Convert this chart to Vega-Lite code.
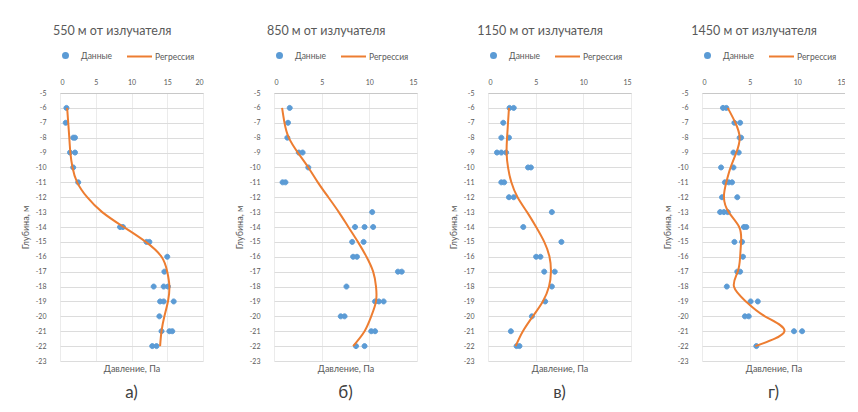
{
  "$schema": "https://vega.github.io/schema/vega-lite/v6.json",
  "padding": {"left": 21, "top": 24, "right": 0, "bottom": 0},
  "background": "white",
  "datasets": {
    "a": [
      {"s": "Данные", "p": 0.9, "d": -6}, {"s": "Данные", "p": 0.8, "d": -7},
      {"s": "Данные", "p": 1.85, "d": -8}, {"s": "Данные", "p": 2.1, "d": -8},
      {"s": "Данные", "p": 1.4, "d": -9}, {"s": "Данные", "p": 2.1, "d": -9},
      {"s": "Данные", "p": 1.85, "d": -10}, {"s": "Данные", "p": 2.55, "d": -11},
      {"s": "Данные", "p": 8.4, "d": -14}, {"s": "Данные", "p": 8.8, "d": -14},
      {"s": "Данные", "p": 12.1, "d": -15}, {"s": "Данные", "p": 12.5, "d": -15},
      {"s": "Данные", "p": 15.0, "d": -16}, {"s": "Данные", "p": 14.6, "d": -17},
      {"s": "Данные", "p": 13.1, "d": -18}, {"s": "Данные", "p": 14.5, "d": -18}, {"s": "Данные", "p": 15.1, "d": -18},
      {"s": "Данные", "p": 14.0, "d": -19}, {"s": "Данные", "p": 14.5, "d": -19}, {"s": "Данные", "p": 15.9, "d": -19},
      {"s": "Данные", "p": 13.9, "d": -20},
      {"s": "Данные", "p": 14.2, "d": -21}, {"s": "Данные", "p": 15.3, "d": -21}, {"s": "Данные", "p": 15.7, "d": -21},
      {"s": "Данные", "p": 12.9, "d": -22}, {"s": "Данные", "p": 13.5, "d": -22},
      {"s": "Регрессия", "p": 1.0, "d": -6}, {"s": "Регрессия", "p": 1.15, "d": -7},
      {"s": "Регрессия", "p": 1.3, "d": -8}, {"s": "Регрессия", "p": 1.45, "d": -9},
      {"s": "Регрессия", "p": 1.75, "d": -10}, {"s": "Регрессия", "p": 2.4, "d": -11},
      {"s": "Регрессия", "p": 3.8, "d": -12}, {"s": "Регрессия", "p": 5.9, "d": -13},
      {"s": "Регрессия", "p": 8.9, "d": -14}, {"s": "Регрессия", "p": 12.0, "d": -15},
      {"s": "Регрессия", "p": 14.2, "d": -16}, {"s": "Регрессия", "p": 15.0, "d": -17},
      {"s": "Регрессия", "p": 15.3, "d": -18}, {"s": "Регрессия", "p": 15.1, "d": -19},
      {"s": "Регрессия", "p": 14.6, "d": -20}, {"s": "Регрессия", "p": 14.2, "d": -21},
      {"s": "Регрессия", "p": 14.0, "d": -22}
    ],
    "b": [
      {"s": "Данные", "p": 1.65, "d": -6}, {"s": "Данные", "p": 1.47, "d": -7},
      {"s": "Данные", "p": 1.4, "d": -8}, {"s": "Данные", "p": 2.6, "d": -9}, {"s": "Данные", "p": 3.0, "d": -9},
      {"s": "Данные", "p": 3.6, "d": -10}, {"s": "Данные", "p": 0.9, "d": -11}, {"s": "Данные", "p": 1.2, "d": -11},
      {"s": "Данные", "p": 10.3, "d": -13},
      {"s": "Данные", "p": 8.5, "d": -14}, {"s": "Данные", "p": 9.5, "d": -14}, {"s": "Данные", "p": 10.4, "d": -14},
      {"s": "Данные", "p": 8.2, "d": -15}, {"s": "Данные", "p": 9.4, "d": -15},
      {"s": "Данные", "p": 8.3, "d": -16}, {"s": "Данные", "p": 8.7, "d": -16},
      {"s": "Данные", "p": 13.0, "d": -17}, {"s": "Данные", "p": 13.4, "d": -17},
      {"s": "Данные", "p": 7.6, "d": -18},
      {"s": "Данные", "p": 10.6, "d": -19}, {"s": "Данные", "p": 11.0, "d": -19}, {"s": "Данные", "p": 11.5, "d": -19},
      {"s": "Данные", "p": 7.0, "d": -20}, {"s": "Данные", "p": 7.4, "d": -20},
      {"s": "Данные", "p": 10.2, "d": -21}, {"s": "Данные", "p": 10.6, "d": -21},
      {"s": "Данные", "p": 8.6, "d": -22}, {"s": "Данные", "p": 9.5, "d": -22},
      {"s": "Регрессия", "p": 0.85, "d": -6}, {"s": "Регрессия", "p": 1.1, "d": -7},
      {"s": "Регрессия", "p": 1.55, "d": -8}, {"s": "Регрессия", "p": 2.5, "d": -9},
      {"s": "Регрессия", "p": 3.6, "d": -10}, {"s": "Регрессия", "p": 4.6, "d": -11},
      {"s": "Регрессия", "p": 5.7, "d": -12}, {"s": "Регрессия", "p": 6.8, "d": -13},
      {"s": "Регрессия", "p": 7.8, "d": -14}, {"s": "Регрессия", "p": 8.8, "d": -15},
      {"s": "Регрессия", "p": 9.7, "d": -16}, {"s": "Регрессия", "p": 10.4, "d": -17},
      {"s": "Регрессия", "p": 10.7, "d": -18}, {"s": "Регрессия", "p": 10.7, "d": -19},
      {"s": "Регрессия", "p": 10.2, "d": -20}, {"s": "Регрессия", "p": 9.5, "d": -21},
      {"s": "Регрессия", "p": 8.3, "d": -22}
    ],
    "c": [
      {"s": "Данные", "p": 2.26, "d": -6}, {"s": "Данные", "p": 2.7, "d": -6},
      {"s": "Данные", "p": 1.6, "d": -7},
      {"s": "Данные", "p": 1.4, "d": -8}, {"s": "Данные", "p": 2.2, "d": -8},
      {"s": "Данные", "p": 0.94, "d": -9}, {"s": "Данные", "p": 1.4, "d": -9}, {"s": "Данные", "p": 1.9, "d": -9},
      {"s": "Данные", "p": 4.2, "d": -10}, {"s": "Данные", "p": 4.5, "d": -10},
      {"s": "Данные", "p": 1.4, "d": -11}, {"s": "Данные", "p": 1.7, "d": -11},
      {"s": "Данные", "p": 2.2, "d": -12}, {"s": "Данные", "p": 2.7, "d": -12},
      {"s": "Данные", "p": 6.7, "d": -13}, {"s": "Данные", "p": 3.7, "d": -14},
      {"s": "Данные", "p": 7.7, "d": -15},
      {"s": "Данные", "p": 5.05, "d": -16}, {"s": "Данные", "p": 5.5, "d": -16},
      {"s": "Данные", "p": 5.9, "d": -17}, {"s": "Данные", "p": 7.0, "d": -17},
      {"s": "Данные", "p": 6.7, "d": -18}, {"s": "Данные", "p": 6.0, "d": -19},
      {"s": "Данные", "p": 4.6, "d": -20}, {"s": "Данные", "p": 2.4, "d": -21},
      {"s": "Данные", "p": 3.0, "d": -22}, {"s": "Данные", "p": 3.3, "d": -22},
      {"s": "Регрессия", "p": 2.2, "d": -6}, {"s": "Регрессия", "p": 2.1, "d": -7},
      {"s": "Регрессия", "p": 2.0, "d": -8}, {"s": "Регрессия", "p": 1.95, "d": -9},
      {"s": "Регрессия", "p": 2.1, "d": -10}, {"s": "Регрессия", "p": 2.45, "d": -11},
      {"s": "Регрессия", "p": 3.1, "d": -12}, {"s": "Регрессия", "p": 4.1, "d": -13},
      {"s": "Регрессия", "p": 5.05, "d": -14}, {"s": "Регрессия", "p": 5.9, "d": -15},
      {"s": "Регрессия", "p": 6.45, "d": -16}, {"s": "Регрессия", "p": 6.6, "d": -17},
      {"s": "Регрессия", "p": 6.4, "d": -18}, {"s": "Регрессия", "p": 5.75, "d": -19},
      {"s": "Регрессия", "p": 4.7, "d": -20}, {"s": "Регрессия", "p": 3.66, "d": -21},
      {"s": "Регрессия", "p": 2.9, "d": -22}
    ],
    "d": [
      {"s": "Данные", "p": 2.2, "d": -6}, {"s": "Данные", "p": 2.55, "d": -6},
      {"s": "Данные", "p": 3.4, "d": -7}, {"s": "Данные", "p": 4.0, "d": -7},
      {"s": "Данные", "p": 3.95, "d": -8}, {"s": "Данные", "p": 4.1, "d": -8},
      {"s": "Данные", "p": 3.3, "d": -9}, {"s": "Данные", "p": 3.85, "d": -9},
      {"s": "Данные", "p": 2.0, "d": -10}, {"s": "Данные", "p": 3.3, "d": -10},
      {"s": "Данные", "p": 2.4, "d": -11}, {"s": "Данные", "p": 2.8, "d": -11}, {"s": "Данные", "p": 3.15, "d": -11},
      {"s": "Данные", "p": 2.1, "d": -12}, {"s": "Данные", "p": 3.7, "d": -12},
      {"s": "Данные", "p": 1.9, "d": -13}, {"s": "Данные", "p": 2.3, "d": -13}, {"s": "Данные", "p": 2.7, "d": -13},
      {"s": "Данные", "p": 4.4, "d": -14}, {"s": "Данные", "p": 4.65, "d": -14},
      {"s": "Данные", "p": 3.4, "d": -15}, {"s": "Данные", "p": 4.2, "d": -15},
      {"s": "Данные", "p": 4.3, "d": -16},
      {"s": "Данные", "p": 3.7, "d": -17}, {"s": "Данные", "p": 4.0, "d": -17},
      {"s": "Данные", "p": 2.6, "d": -18},
      {"s": "Данные", "p": 5.1, "d": -19}, {"s": "Данные", "p": 5.85, "d": -19},
      {"s": "Данные", "p": 4.5, "d": -20}, {"s": "Данные", "p": 4.9, "d": -20},
      {"s": "Данные", "p": 9.65, "d": -21}, {"s": "Данные", "p": 10.5, "d": -21},
      {"s": "Данные", "p": 5.7, "d": -22},
      {"s": "Регрессия", "p": 2.7, "d": -6}, {"s": "Регрессия", "p": 3.5, "d": -7},
      {"s": "Регрессия", "p": 3.95, "d": -8}, {"s": "Регрессия", "p": 3.6, "d": -9},
      {"s": "Регрессия", "p": 3.0, "d": -10}, {"s": "Регрессия", "p": 2.55, "d": -11},
      {"s": "Регрессия", "p": 2.3, "d": -12}, {"s": "Регрессия", "p": 2.8, "d": -13},
      {"s": "Регрессия", "p": 3.9, "d": -14}, {"s": "Регрессия", "p": 4.1, "d": -15},
      {"s": "Регрессия", "p": 4.0, "d": -16}, {"s": "Регрессия", "p": 3.75, "d": -17},
      {"s": "Регрессия", "p": 3.35, "d": -18}, {"s": "Регрессия", "p": 4.6, "d": -19},
      {"s": "Регрессия", "p": 6.6, "d": -20}, {"s": "Регрессия", "p": 8.65, "d": -21},
      {"s": "Регрессия", "p": 5.6, "d": -22}
    ]
  },
  "hconcat": [
    {
      "title": {"text": "550 м от излучателя", "anchor": "middle"},
      "vconcat": [{
        "width": 143, "height": 268,
        "title": {"text": "а)", "orient": "bottom", "fontSize": 17, "color": "#404040", "anchor": "middle", "frame": "group", "offset": 12},
        "data": {"name": "a"},
        "layer": [
          {
            "transform": [{"filter": "datum.s === 'Данные'"}],
            "mark": {"type": "point", "filled": true, "opacity": 1, "strokeWidth": 1, "size": 625},
            "encoding": {
              "x": {"field": "p", "type": "quantitative", "scale": {"domain": [0, 20], "nice": false},
                    "axis": {"orient": "top", "tickCount": 4, "title": null, "grid": true, "gridColor": "#EBEBEB", "labelPadding": 8, "domain": true, "domainColor": "#C8C8C8"}},
              "y": {"field": "d", "type": "quantitative", "scale": {"domain": [-23, -5], "nice": false},
                    "axis": {"tickCount": 19, "labelOverlap": false, "labelExpr": "'' + datum.value", "title": "Глубина, м", "titlePadding": 5, "labelPadding": 14, "grid": true, "gridColor": "#DCDCDC"}},
              "color": {"field": "s", "type": "nominal", "scale": {"domain": ["Данные", "Регрессия"], "range": ["#5B9BD5", "#ED7D31"]}, "legend": {"orient": "none", "legendX": -8, "legendY": -51, "direction": "horizontal", "title": null, "symbolSize": 625}},
              "stroke": {"field": "s", "type": "nominal", "scale": {"domain": ["Данные", "Регрессия"], "range": ["#5B9BD5", "#ED7D31"]}, "legend": {"orient": "none", "legendX": -8, "legendY": -51, "direction": "horizontal", "title": null, "symbolSize": 625}},
              "shape": {"field": "s", "type": "nominal", "scale": {"domain": ["Данные", "Регрессия"], "range": ["M-0.2,0A0.2,0.2,0,1,0,0.2,0A0.2,0.2,0,1,0,-0.2,0Z", "M-1,0L1,0"]}, "legend": {"orient": "none", "legendX": -8, "legendY": -51, "direction": "horizontal", "title": null, "symbolSize": 625}}
            }
          },
          {
            "transform": [{"filter": "datum.s === 'Регрессия'"}],
            "mark": {"type": "line", "interpolate": "natural", "strokeWidth": 2, "color": "#ED7D31"},
            "encoding": {
              "x": {"field": "p", "type": "quantitative", "axis": {"orient": "bottom", "labels": false, "grid": false, "domain": false, "title": "Давление, Па", "titlePadding": 3}},
              "y": {"field": "d", "type": "quantitative",
                    "axis": {"tickCount": 19, "labelOverlap": false, "labelExpr": "'' + datum.value", "title": "Глубина, м", "titlePadding": 5, "labelPadding": 14, "grid": true, "gridColor": "#DCDCDC"}},
              "order": {"field": "d", "type": "quantitative", "sort": "descending"}
            }
          }
        ]
      }]
    },
    {
      "title": {"text": "850 м от излучателя", "anchor": "middle"},
      "vconcat": [{
        "width": 143, "height": 268,
        "title": {"text": "б)", "orient": "bottom", "fontSize": 17, "color": "#404040", "anchor": "middle", "frame": "group", "offset": 12},
        "data": {"name": "b"},
        "layer": [
          {
            "transform": [{"filter": "datum.s === 'Данные'"}],
            "mark": {"type": "point", "filled": true, "opacity": 1, "strokeWidth": 1, "size": 625},
            "encoding": {
              "x": {"field": "p", "type": "quantitative", "scale": {"domain": [0, 15], "nice": false},
                    "axis": {"orient": "top", "tickCount": 3, "title": null, "grid": true, "gridColor": "#EBEBEB", "labelPadding": 8, "domain": true, "domainColor": "#C8C8C8"}},
              "y": {"field": "d", "type": "quantitative", "scale": {"domain": [-23, -5], "nice": false},
                    "axis": {"tickCount": 19, "labelOverlap": false, "labelExpr": "'' + datum.value", "title": "Глубина, м", "titlePadding": 5, "labelPadding": 14, "grid": true, "gridColor": "#DCDCDC"}},
              "color": {"field": "s", "type": "nominal", "scale": {"domain": ["Данные", "Регрессия"], "range": ["#5B9BD5", "#ED7D31"]}, "legend": {"orient": "none", "legendX": -8, "legendY": -51, "direction": "horizontal", "title": null, "symbolSize": 625}},
              "stroke": {"field": "s", "type": "nominal", "scale": {"domain": ["Данные", "Регрессия"], "range": ["#5B9BD5", "#ED7D31"]}, "legend": {"orient": "none", "legendX": -8, "legendY": -51, "direction": "horizontal", "title": null, "symbolSize": 625}},
              "shape": {"field": "s", "type": "nominal", "scale": {"domain": ["Данные", "Регрессия"], "range": ["M-0.2,0A0.2,0.2,0,1,0,0.2,0A0.2,0.2,0,1,0,-0.2,0Z", "M-1,0L1,0"]}, "legend": {"orient": "none", "legendX": -8, "legendY": -51, "direction": "horizontal", "title": null, "symbolSize": 625}}
            }
          },
          {
            "transform": [{"filter": "datum.s === 'Регрессия'"}],
            "mark": {"type": "line", "interpolate": "natural", "strokeWidth": 2, "color": "#ED7D31"},
            "encoding": {
              "x": {"field": "p", "type": "quantitative", "axis": {"orient": "bottom", "labels": false, "grid": false, "domain": false, "title": "Давление, Па", "titlePadding": 3}},
              "y": {"field": "d", "type": "quantitative",
                    "axis": {"tickCount": 19, "labelOverlap": false, "labelExpr": "'' + datum.value", "title": "Глубина, м", "titlePadding": 5, "labelPadding": 14, "grid": true, "gridColor": "#DCDCDC"}},
              "order": {"field": "d", "type": "quantitative", "sort": "descending"}
            }
          }
        ]
      }]
    },
    {
      "title": {"text": "1150 м от излучателя", "anchor": "middle"},
      "vconcat": [{
        "width": 143, "height": 268,
        "title": {"text": "в)", "orient": "bottom", "fontSize": 17, "color": "#404040", "anchor": "middle", "frame": "group", "offset": 12},
        "data": {"name": "c"},
        "layer": [
          {
            "transform": [{"filter": "datum.s === 'Данные'"}],
            "mark": {"type": "point", "filled": true, "opacity": 1, "strokeWidth": 1, "size": 625},
            "encoding": {
              "x": {"field": "p", "type": "quantitative", "scale": {"domain": [0, 15], "nice": false},
                    "axis": {"orient": "top", "tickCount": 3, "title": null, "grid": true, "gridColor": "#EBEBEB", "labelPadding": 8, "domain": true, "domainColor": "#C8C8C8"}},
              "y": {"field": "d", "type": "quantitative", "scale": {"domain": [-23, -5], "nice": false},
                    "axis": {"tickCount": 19, "labelOverlap": false, "labelExpr": "'' + datum.value", "title": "Глубина, м", "titlePadding": 5, "labelPadding": 14, "grid": true, "gridColor": "#DCDCDC"}},
              "color": {"field": "s", "type": "nominal", "scale": {"domain": ["Данные", "Регрессия"], "range": ["#5B9BD5", "#ED7D31"]}, "legend": {"orient": "none", "legendX": -8, "legendY": -51, "direction": "horizontal", "title": null, "symbolSize": 625}},
              "stroke": {"field": "s", "type": "nominal", "scale": {"domain": ["Данные", "Регрессия"], "range": ["#5B9BD5", "#ED7D31"]}, "legend": {"orient": "none", "legendX": -8, "legendY": -51, "direction": "horizontal", "title": null, "symbolSize": 625}},
              "shape": {"field": "s", "type": "nominal", "scale": {"domain": ["Данные", "Регрессия"], "range": ["M-0.2,0A0.2,0.2,0,1,0,0.2,0A0.2,0.2,0,1,0,-0.2,0Z", "M-1,0L1,0"]}, "legend": {"orient": "none", "legendX": -8, "legendY": -51, "direction": "horizontal", "title": null, "symbolSize": 625}}
            }
          },
          {
            "transform": [{"filter": "datum.s === 'Регрессия'"}],
            "mark": {"type": "line", "interpolate": "natural", "strokeWidth": 2, "color": "#ED7D31"},
            "encoding": {
              "x": {"field": "p", "type": "quantitative", "axis": {"orient": "bottom", "labels": false, "grid": false, "domain": false, "title": "Давление, Па", "titlePadding": 3}},
              "y": {"field": "d", "type": "quantitative",
                    "axis": {"tickCount": 19, "labelOverlap": false, "labelExpr": "'' + datum.value", "title": "Глубина, м", "titlePadding": 5, "labelPadding": 14, "grid": true, "gridColor": "#DCDCDC"}},
              "order": {"field": "d", "type": "quantitative", "sort": "descending"}
            }
          }
        ]
      }]
    },
    {
      "title": {"text": "1450 м от излучателя", "anchor": "middle"},
      "vconcat": [{
        "width": 143, "height": 268,
        "title": {"text": "г)", "orient": "bottom", "fontSize": 17, "color": "#404040", "anchor": "middle", "frame": "group", "offset": 12},
        "data": {"name": "d"},
        "layer": [
          {
            "transform": [{"filter": "datum.s === 'Данные'"}],
            "mark": {"type": "point", "filled": true, "opacity": 1, "strokeWidth": 1, "size": 625},
            "encoding": {
              "x": {"field": "p", "type": "quantitative", "scale": {"domain": [0, 15], "nice": false},
                    "axis": {"orient": "top", "tickCount": 3, "title": null, "grid": true, "gridColor": "#EBEBEB", "labelPadding": 8, "domain": true, "domainColor": "#C8C8C8"}},
              "y": {"field": "d", "type": "quantitative", "scale": {"domain": [-23, -5], "nice": false},
                    "axis": {"tickCount": 19, "labelOverlap": false, "labelExpr": "'' + datum.value", "title": "Глубина, м", "titlePadding": 5, "labelPadding": 14, "grid": true, "gridColor": "#DCDCDC"}},
              "color": {"field": "s", "type": "nominal", "scale": {"domain": ["Данные", "Регрессия"], "range": ["#5B9BD5", "#ED7D31"]}, "legend": {"orient": "none", "legendX": -8, "legendY": -51, "direction": "horizontal", "title": null, "symbolSize": 625}},
              "stroke": {"field": "s", "type": "nominal", "scale": {"domain": ["Данные", "Регрессия"], "range": ["#5B9BD5", "#ED7D31"]}, "legend": {"orient": "none", "legendX": -8, "legendY": -51, "direction": "horizontal", "title": null, "symbolSize": 625}},
              "shape": {"field": "s", "type": "nominal", "scale": {"domain": ["Данные", "Регрессия"], "range": ["M-0.2,0A0.2,0.2,0,1,0,0.2,0A0.2,0.2,0,1,0,-0.2,0Z", "M-1,0L1,0"]}, "legend": {"orient": "none", "legendX": -8, "legendY": -51, "direction": "horizontal", "title": null, "symbolSize": 625}}
            }
          },
          {
            "transform": [{"filter": "datum.s === 'Регрессия'"}],
            "mark": {"type": "line", "interpolate": "natural", "strokeWidth": 2, "color": "#ED7D31"},
            "encoding": {
              "x": {"field": "p", "type": "quantitative", "axis": {"orient": "bottom", "labels": false, "grid": false, "domain": false, "title": "Давление, Па", "titlePadding": 3}},
              "y": {"field": "d", "type": "quantitative",
                    "axis": {"tickCount": 19, "labelOverlap": false, "labelExpr": "'' + datum.value", "title": "Глубина, м", "titlePadding": 5, "labelPadding": 14, "grid": true, "gridColor": "#DCDCDC"}},
              "order": {"field": "d", "type": "quantitative", "sort": "descending"}
            }
          }
        ]
      }]
    }
  ],
  "spacing": 32,
  "resolve": {
    "scale": {"color": "independent", "stroke": "independent", "shape": "independent"},
    "legend": {"color": "independent", "stroke": "independent", "shape": "independent"}
  },
  "config": {
    "font": "Lato",
    "view": {"stroke": null},
    "axis": {"labelFont": "Lato", "labelFontSize": 7, "labelColor": "#595959", "titleFont": "Lato", "titleFontSize": 9, "titleColor": "#595959", "titleFontWeight": "normal", "ticks": false, "domain": false, "gridOpacity": 1, "gridWidth": 1},
    "legend": {"labelFont": "Lato", "labelFontSize": 8.5, "labelColor": "#595959", "columnPadding": 10, "labelOffset": 2, "symbolStrokeWidth": 2},
    "title": {"font": "Lato", "fontSize": 12.5, "fontWeight": "normal", "color": "#595959", "offset": 5}
  }
}
